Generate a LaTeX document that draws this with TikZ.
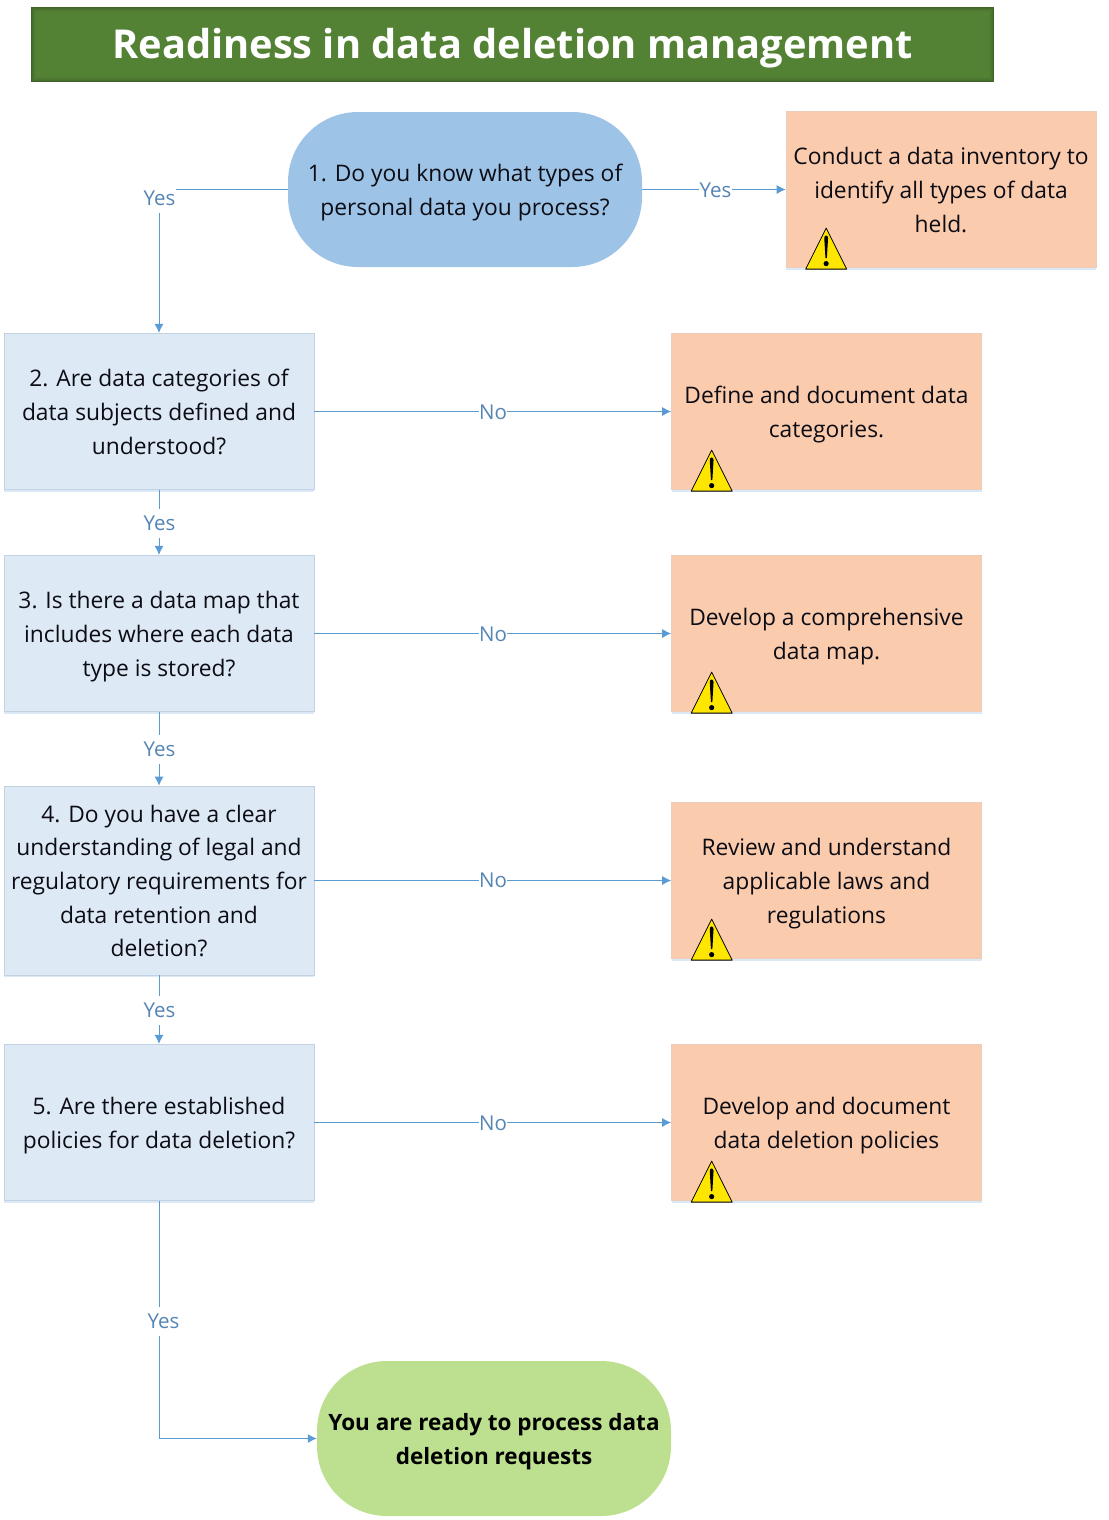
\documentclass[tikz,border=0pt]{standalone}
\usepackage{fontspec}
\setmainfont{Open Sans}
\usetikzlibrary{arrows.meta,shadows,calc}
\definecolor{linec}{HTML}{5B9BD5}
\definecolor{labc}{HTML}{5585B5}
\definecolor{qfill}{HTML}{DEE9F6}
\definecolor{qline}{HTML}{C3D2E2}
\definecolor{afill}{HTML}{FBCBAE}
\definecolor{aline}{HTML}{EBCDBA}
\definecolor{startc}{HTML}{9DC3E6}
\definecolor{endc}{HTML}{BCE08F}
\definecolor{titlec}{HTML}{548235}
\definecolor{titled}{HTML}{3A5A25}
\definecolor{warny}{HTML}{FFE600}
\definecolor{inkc}{HTML}{0C0C14}
\newcommand{\bodyfont}{\fontsize{22.8}{33.6}\selectfont}
\newcommand{\lift}{\rule{0pt}{30pt}}
\newcommand{\botstrut}{\rule[-12pt]{0pt}{12pt}}
\tikzset{
  x=1pt,y=-1pt,
  softshadow/.style={general shadow={shadow xshift=0pt,shadow yshift=-2pt,fill=linec,opacity=.22}},
  boxbase/.style={rectangle,minimum width=310pt,align=center,inner sep=0pt,text=inkc,softshadow,font=\bodyfont},
  qbox/.style={boxbase,fill=qfill,draw=qline,line width=.7pt,minimum height=156.5pt},
  abox/.style={boxbase,fill=afill,draw=aline,line width=.7pt,minimum height=156.5pt},
  pill/.style={rectangle,rounded corners=70pt,minimum width=354pt,minimum height=155pt,align=center,inner sep=0pt,
    text=inkc,font=\bodyfont},
  conn/.style={draw=linec,line width=1pt,-{Latex[length=9pt,width=9pt]}},
  lab/.style={fill=white,text=labc,inner xsep=.5pt,inner ysep=0pt,minimum height=29pt,font=\fontsize{20.5}{24}\selectfont},
  titlebox/.style={rectangle,minimum width=963pt,minimum height=75pt,fill=titlec,inner sep=0pt,text=white,
    font=\fontsize{39.8}{48}\bfseries\selectfont},
  glow/.style={draw=titled,line width=1pt},
}
\newcommand{\warnsign}[1]{%
  \begin{scope}[shift={($(#1.south west)+(20pt,-1pt)$)}]
    \filldraw[fill=warny,draw=black,line width=.8pt,line join=round] (0,0) -- (41,0) -- (20.5,-41) -- cycle;
    \fill[black] (18.6,-31) .. controls (18.6,-34.5) and (22.4,-34.5) .. (22.4,-31) -- (21.2,-11) -- (19.8,-11) -- cycle;
    \fill[black] (20.5,-5.5) circle (2.6);
  \end{scope}}
\begin{document}
\begin{tikzpicture}
\useasboundingbox (0,0) rectangle (1108,1520);
\node[titlebox] (title) at (512.5,44.5) {};
\foreach \i/\o in {0.5/0.8,1.5/0.5,2.5/0.35,3.5/0.2,4.5/0.1}
  \draw[glow,opacity=\o] ($(title.north west)+(\i pt,-\i pt)$) rectangle ($(title.south east)+(-\i pt,\i pt)$);
\node[text=white,inner sep=0pt,font=\fontsize{39.8}{48}\bfseries\selectfont] (titletext) at (512.5,48.5) {Readiness in data deletion management};
\node[pill,fill=startc] (q1) at (465,189.5) {\lift 1. Do you know what types of\\personal data you process?\botstrut};
\node[abox] (a1) at (941,189.5) {\lift Conduct a data inventory to\\identify all types of data\\held.\botstrut};
\node[qbox] (q2) at (159,411.5) {\lift 2. Are data categories of\\data subjects defined and\\understood?\botstrut};
\node[qbox] (q3) at (159,633.5) {\lift 3. Is there a data map that\\includes where each data\\type is stored?\botstrut};
\node[qbox,minimum height=189pt] (q4) at (159,880.5) {\lift 4. Do you have a clear\\understanding of legal and\\regulatory requirements for\\data retention and\\deletion?\botstrut};
\node[qbox] (q5) at (159,1122.5) {\lift 5. Are there established\\policies for data deletion?\botstrut};
\node[abox] (a2) at (826.5,411.5) {\lift Define and document data\\categories.\botstrut};
\node[abox] (a3) at (826.5,633.5) {\lift Develop a comprehensive\\data map.\botstrut};
\node[abox] (a4) at (826.5,880.5) {\lift Review and understand\\applicable laws and\\regulations\botstrut};
\node[abox] (a5) at (826.5,1122.5) {\lift Develop and document\\data deletion policies\botstrut};
\node[pill,fill=endc,text=black,font=\fontsize{22.5}{33.6}\bfseries\selectfont] (done) at (494,1438.5) {\lift You are ready to process data\\deletion requests\botstrut};
\draw[conn] (q1.west) -| (q2.north);
\draw[conn] (q1.east) -- (a1.west);
\draw[conn] (q2) -- (q3);
\draw[conn] (q3) -- (q4);
\draw[conn] (q4) -- (q5);
\draw[conn] (q2) -- (a2);
\draw[conn] (q3) -- (a3);
\draw[conn] (q4) -- (a4);
\draw[conn] (q5) -- (a5);
\draw[conn] (q5.south) |- (done.west);
\node[lab] (ly1) at (159.5,198) {Yes};
\node[lab,minimum height=24pt] (ly1b) at (715.5,190) {Yes};
\node[lab] (ly2) at (159.5,523) {Yes};
\node[lab] (ly3) at (159.5,749) {Yes};
\node[lab] (ly4) at (159.5,1010) {Yes};
\node[lab] (ly5) at (163.5,1321) {Yes};
\node[lab] (ln2) at (493,412) {No};
\node[lab] (ln3) at (493,634) {No};
\node[lab] (ln4) at (493,880) {No};
\node[lab] (ln5) at (493,1123) {No};
\warnsign{a1}\warnsign{a2}\warnsign{a3}\warnsign{a4}\warnsign{a5}
\end{tikzpicture}
\end{document}
